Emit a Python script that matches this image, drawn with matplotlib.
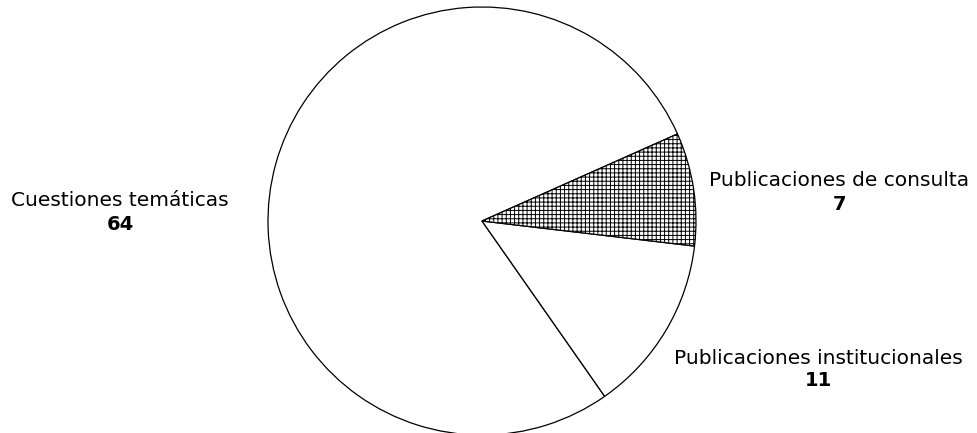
import matplotlib.pyplot as plt

# slice values, counterclockwise from the upper right edge
labels = ["Cuestiones temáticas", "Publicaciones institucionales", "Publicaciones de consulta"]
values = [64, 11, 7]
hatches = ["", "", "+" * 4]

plt.rcParams["font.family"] = ["DejaVu Sans"]
plt.rcParams["hatch.linewidth"] = 0.7

W, H = 978, 433
fig = plt.figure(figsize=(W / 100, H / 100), dpi=100)
ax = fig.add_axes([0, 0, 1, 1])

wedges, _ = ax.pie(
    values,
    startangle=24,
    counterclock=True,
    center=(482, H - 221),
    radius=214,
    colors=["white"] * 3,
    wedgeprops=dict(edgecolor="black", linewidth=0.9),
)
for w, h in zip(wedges, hatches):
    w.set_hatch(h)

ax.set_xlim(0, W)
ax.set_ylim(0, H)
ax.set_aspect("auto")
ax.axis("off")

# label positions (pixels from top-left)
label_pos = [(120, 201), (818, 358), (839, 181)]
for lab, val, (x, y) in zip(labels, values, label_pos):
    ax.text(x, H - y, lab, ha="center", va="center", fontsize=14.5)
    ax.text(x, H - y - 23, str(val), ha="center", va="center",
            fontsize=14, fontweight="bold")

fig.savefig("out.png", dpi=100, facecolor="white")
